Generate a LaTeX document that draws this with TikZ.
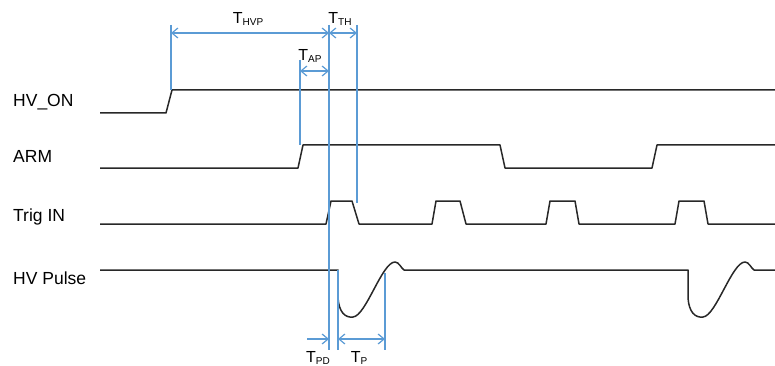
\documentclass[tikz,border=0pt]{standalone}
\usepackage{fontspec}
\setmainfont{Liberation Sans}
\usetikzlibrary{arrows.meta}
\definecolor{tblue}{RGB}{91,155,213}
\definecolor{tsig}{RGB}{40,40,40}
\begin{document}
\begin{tikzpicture}[x=1pt,y=-1pt,
  sig/.style={draw=tsig,line width=1.5pt,line join=round},
  vline/.style={draw=tblue,line width=1.2pt},
  dim/.style={draw=tblue,line width=1.2pt,{Straight Barb[length=6pt,width=10pt]}-{Straight Barb[length=6pt,width=10pt]}},
  dimr/.style={draw=tblue,line width=1.2pt,-{Straight Barb[length=6pt,width=10pt]}},
  lab/.style={font=\fontsize{17.5}{20}\selectfont,anchor=base west,inner sep=0pt},
  tlab/.style={font=\fontsize{16}{18}\selectfont,anchor=base,inner sep=0pt}]
\newcommand{\tsub}[1]{T{\fontsize{10}{10}\selectfont\raisebox{-2pt}{#1}}}
\useasboundingbox (0,0) rectangle (775,366);
% labels
\node[lab] (lhv) at (13,107) {HV\_ON};
\node[lab] (larm) at (13,163) {ARM};
\node[lab] (ltrig) at (13,221) {Trig IN};
\node[lab] (lpulse) at (13,284) {HV Pulse};
% signals
\draw[sig] (100,113) -- (166,113) -- (172,90) -- (775,90);
\draw[sig] (100,168) -- (298,168) -- (303,145) -- (500,145) -- (505,168) -- (652,168) -- (657,145) -- (775,145);
\draw[sig] (100,224) -- (326,224) -- (331,201) -- (352,201) -- (359,224)
  -- (432,224) -- (436,201) -- (460,201) -- (466,224)
  -- (546,224) -- (550,201) -- (575,201) -- (579,224)
  -- (675,224) -- (679,201) -- (704,201) -- (708,224) -- (775,224);
\draw[sig] (100,270) -- (338,270) -- (338,298)
  .. controls (339,312) and (345,318) .. (353,317)
  .. controls (366,316) and (382,262) .. (395,262)
  .. controls (399,262) and (401,268) .. (404,270)
  -- (688,270) -- (688,298)
  .. controls (689,312) and (695,318) .. (703,317)
  .. controls (716,316) and (732,262) .. (745,262)
  .. controls (749,262) and (751,268) .. (754,270) -- (775,270);
% marker coordinates
\coordinate (a1) at (171,25); \coordinate (a2) at (171,90);
\coordinate (b1) at (300,60); \coordinate (b2) at (300,145);
\coordinate (c1) at (329,25); \coordinate (c2) at (329,350);
\coordinate (d1) at (357,25); \coordinate (d2) at (357,203);
\coordinate (e1) at (338,270); \coordinate (e2) at (338,350);
\coordinate (f1) at (385,273); \coordinate (f2) at (385,350);
\foreach \p in {a,b,c,d,e,f} \draw[vline] (\p1) -- (\p2);
% dimension arrows
\coordinate (hvpL) at (171,33); \coordinate (hvpR) at (329,33); \coordinate (thR) at (357,33);
\coordinate (apL) at (300,71); \coordinate (apR) at (329,71);
\coordinate (pdL) at (307,339); \coordinate (pdR) at (329,339);
\coordinate (pL) at (338,339); \coordinate (pR) at (385,339);
\draw[dim] (hvpL) -- (hvpR);
\draw[dim] (hvpR) -- (thR);
\draw[dim] (apL) -- (apR);
\draw[dimr] (pdL) -- (pdR);
\draw[dim] (pL) -- (pR);
% timing labels
\node[tlab] (thvp) at (248,24) {\tsub{HVP}};
\node[tlab] (tth) at (340,24) {\tsub{TH}};
\node[tlab] (tap) at (310,61) {\tsub{AP}};
\node[tlab] (tpd) at (318,362) {\tsub{PD}};
\node[tlab] (tp) at (359,362) {\tsub{P}};
\end{tikzpicture}
\end{document}
